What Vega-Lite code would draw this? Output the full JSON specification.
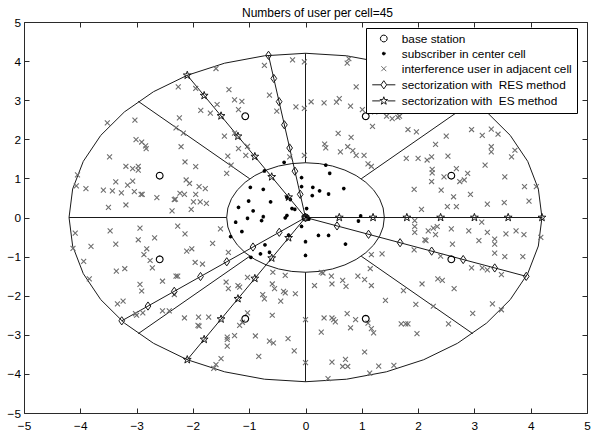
{
"$schema":"https://vega.github.io/schema/vega-lite/v6.json",
"width":563,"height":391,
"autosize":{"type":"none"},
"padding":{"left":24,"top":22,"right":12,"bottom":21},
"background":"white",
"title":{"text":"Numbers of user per cell=45","font":"Liberation Sans","fontSize":12,"fontWeight":"normal","color":"black","anchor":"middle","offset":7,"dx":12,"dy":10},
"config":{
 "view":{"stroke":"#2a2a2a","strokeWidth":1},
 "axis":{"grid":false,"domain":false,"ticks":true,"tickSize":5,"offset":-5,"tickColor":"#2a2a2a","tickWidth":1,"labelFont":"Liberation Sans","labelFontSize":11.8,"labelColor":"black","title":null,"labelOverlap":false,"labelFlush":false}
},
"datasets":{
 "lines":[
  {"g":"outer","o":0,"x":4.2,"y":0},{"g":"outer","o":1,"x":4.136,"y":0.729},{"g":"outer","o":2,"x":3.947,"y":1.436},{"g":"outer","o":3,"x":3.637,"y":2.1},{"g":"outer","o":4,"x":3.217,"y":2.7},{"g":"outer","o":5,"x":2.7,"y":3.217},{"g":"outer","o":6,"x":2.1,"y":3.637},{"g":"outer","o":7,"x":1.436,"y":3.947},{"g":"outer","o":8,"x":0.729,"y":4.136},{"g":"outer","o":9,"x":0,"y":4.2},
  {"g":"outer","o":10,"x":-0.729,"y":4.136},{"g":"outer","o":11,"x":-1.436,"y":3.947},{"g":"outer","o":12,"x":-2.1,"y":3.637},{"g":"outer","o":13,"x":-2.7,"y":3.217},{"g":"outer","o":14,"x":-3.217,"y":2.7},{"g":"outer","o":15,"x":-3.637,"y":2.1},{"g":"outer","o":16,"x":-3.947,"y":1.436},{"g":"outer","o":17,"x":-4.136,"y":0.729},{"g":"outer","o":18,"x":-4.2,"y":0},
  {"g":"outer","o":19,"x":-4.136,"y":-0.729},{"g":"outer","o":20,"x":-3.947,"y":-1.436},{"g":"outer","o":21,"x":-3.637,"y":-2.1},{"g":"outer","o":22,"x":-3.217,"y":-2.7},{"g":"outer","o":23,"x":-2.7,"y":-3.217},{"g":"outer","o":24,"x":-2.1,"y":-3.637},{"g":"outer","o":25,"x":-1.436,"y":-3.947},{"g":"outer","o":26,"x":-0.729,"y":-4.136},{"g":"outer","o":27,"x":0,"y":-4.2},
  {"g":"outer","o":28,"x":0.729,"y":-4.136},{"g":"outer","o":29,"x":1.436,"y":-3.947},{"g":"outer","o":30,"x":2.1,"y":-3.637},{"g":"outer","o":31,"x":2.7,"y":-3.217},{"g":"outer","o":32,"x":3.217,"y":-2.7},{"g":"outer","o":33,"x":3.637,"y":-2.1},{"g":"outer","o":34,"x":3.947,"y":-1.436},{"g":"outer","o":35,"x":4.136,"y":-0.729},{"g":"outer","o":36,"x":4.2,"y":0},
  {"g":"inner","o":0,"x":1.4,"y":0},{"g":"inner","o":1,"x":1.379,"y":0.243},{"g":"inner","o":2,"x":1.316,"y":0.479},{"g":"inner","o":3,"x":1.212,"y":0.7},{"g":"inner","o":4,"x":1.072,"y":0.9},{"g":"inner","o":5,"x":0.9,"y":1.072},{"g":"inner","o":6,"x":0.7,"y":1.212},{"g":"inner","o":7,"x":0.479,"y":1.316},{"g":"inner","o":8,"x":0.243,"y":1.379},{"g":"inner","o":9,"x":0,"y":1.4},
  {"g":"inner","o":10,"x":-0.243,"y":1.379},{"g":"inner","o":11,"x":-0.479,"y":1.316},{"g":"inner","o":12,"x":-0.7,"y":1.212},{"g":"inner","o":13,"x":-0.9,"y":1.072},{"g":"inner","o":14,"x":-1.072,"y":0.9},{"g":"inner","o":15,"x":-1.212,"y":0.7},{"g":"inner","o":16,"x":-1.316,"y":0.479},{"g":"inner","o":17,"x":-1.379,"y":0.243},{"g":"inner","o":18,"x":-1.4,"y":0},
  {"g":"inner","o":19,"x":-1.379,"y":-0.243},{"g":"inner","o":20,"x":-1.316,"y":-0.479},{"g":"inner","o":21,"x":-1.212,"y":-0.7},{"g":"inner","o":22,"x":-1.072,"y":-0.9},{"g":"inner","o":23,"x":-0.9,"y":-1.072},{"g":"inner","o":24,"x":-0.7,"y":-1.212},{"g":"inner","o":25,"x":-0.479,"y":-1.316},{"g":"inner","o":26,"x":-0.243,"y":-1.379},{"g":"inner","o":27,"x":0,"y":-1.4},
  {"g":"inner","o":28,"x":0.243,"y":-1.379},{"g":"inner","o":29,"x":0.479,"y":-1.316},{"g":"inner","o":30,"x":0.7,"y":-1.212},{"g":"inner","o":31,"x":0.9,"y":-1.072},{"g":"inner","o":32,"x":1.072,"y":-0.9},{"g":"inner","o":33,"x":1.212,"y":-0.7},{"g":"inner","o":34,"x":1.316,"y":-0.479},{"g":"inner","o":35,"x":1.379,"y":-0.243},{"g":"inner","o":36,"x":1.4,"y":0},
  {"g":"p1","o":0,"x":-4.2,"y":0},{"g":"p1","o":1,"x":-1.4,"y":0},
  {"g":"p2","o":0,"x":0,"y":1.4},{"g":"p2","o":1,"x":0,"y":4.2},
  {"g":"p3","o":0,"x":0,"y":-1.4},{"g":"p3","o":1,"x":0,"y":-4.2},
  {"g":"p4","o":0,"x":0.99,"y":0.99},{"g":"p4","o":1,"x":2.97,"y":2.97},
  {"g":"p5","o":0,"x":-0.99,"y":0.99},{"g":"p5","o":1,"x":-2.97,"y":2.97},
  {"g":"p6","o":0,"x":-0.99,"y":-0.99},{"g":"p6","o":1,"x":-2.97,"y":-2.97},
  {"g":"p7","o":0,"x":0.99,"y":-0.99},{"g":"p7","o":1,"x":2.97,"y":-2.97},
  {"g":"r1","o":0,"x":0,"y":0},{"g":"r1","o":1,"x":-0.657,"y":4.148},
  {"g":"r2","o":0,"x":0,"y":0},{"g":"r2","o":1,"x":-3.264,"y":-2.643},
  {"g":"r3","o":0,"x":0,"y":0},{"g":"r3","o":1,"x":3.921,"y":-1.505},
  {"g":"e1","o":0,"x":0,"y":0},{"g":"e1","o":1,"x":4.2,"y":0},
  {"g":"e2","o":0,"x":0,"y":0},{"g":"e2","o":1,"x":-2.1,"y":3.637},
  {"g":"e3","o":0,"x":0,"y":0},{"g":"e3","o":1,"x":-2.1,"y":-3.637}
 ],
 "marks":[
  {"k":"res","x":0,"y":0},{"k":"res","x":-0.094,"y":0.593},{"k":"res","x":-0.188,"y":1.185},{"k":"res","x":-0.282,"y":1.778},{"k":"res","x":-0.375,"y":2.37},{"k":"res","x":-0.469,"y":2.963},{"k":"res","x":-0.563,"y":3.556},{"k":"res","x":-0.657,"y":4.148},
  {"k":"res","x":-0.466,"y":-0.378},{"k":"res","x":-0.933,"y":-0.755},{"k":"res","x":-1.399,"y":-1.133},{"k":"res","x":-1.865,"y":-1.51},{"k":"res","x":-2.331,"y":-1.888},{"k":"res","x":-2.798,"y":-2.265},{"k":"res","x":-3.264,"y":-2.643},
  {"k":"res","x":0.56,"y":-0.215},{"k":"res","x":1.12,"y":-0.43},{"k":"res","x":1.68,"y":-0.645},{"k":"res","x":2.241,"y":-0.86},{"k":"res","x":2.801,"y":-1.075},{"k":"res","x":3.361,"y":-1.29},{"k":"res","x":3.921,"y":-1.505},
  {"k":"es","x":0,"y":0},{"k":"es","x":0.6,"y":0},{"k":"es","x":1.2,"y":0},{"k":"es","x":1.8,"y":0},{"k":"es","x":2.4,"y":0},{"k":"es","x":3.0,"y":0},{"k":"es","x":3.6,"y":0},{"k":"es","x":4.2,"y":0},
  {"k":"es","x":-0.3,"y":0.52},{"k":"es","x":-0.6,"y":1.039},{"k":"es","x":-0.9,"y":1.559},{"k":"es","x":-1.2,"y":2.078},{"k":"es","x":-1.5,"y":2.598},{"k":"es","x":-1.8,"y":3.118},{"k":"es","x":-2.1,"y":3.637},
  {"k":"es","x":-0.3,"y":-0.52},{"k":"es","x":-0.6,"y":-1.039},{"k":"es","x":-0.9,"y":-1.559},{"k":"es","x":-1.2,"y":-2.078},{"k":"es","x":-1.5,"y":-2.598},{"k":"es","x":-1.8,"y":-3.118},{"k":"es","x":-2.1,"y":-3.637}
 ],
 "pts":[
  {"s":"int","x":-0.73,"y":3.89},{"s":"int","x":-0.23,"y":4.03},{"s":"int","x":-1.59,"y":3.81},{"s":"int","x":-2.26,"y":3.34},{"s":"int","x":-1.36,"y":3.27},{"s":"int","x":-1.95,"y":3.3},{"s":"int","x":-1.26,"y":3.01},{"s":"int","x":-1.13,"y":2.97},{"s":"int","x":-1.57,"y":2.89},{"s":"int","x":-1.86,"y":2.74},{"s":"int","x":-1.69,"y":2.67},{"s":"int","x":-1.19,"y":2.76},{"s":"int","x":-0.64,"y":3.13},{"s":"int","x":-0.51,"y":2.72},{"s":"int","x":-0.17,"y":2.83},{"s":"int","x":-2.24,"y":2.55},{"s":"int","x":-2.17,"y":2.16},{"s":"int","x":-2.3,"y":2.29},{"s":"int","x":-1.44,"y":2.08},{"s":"int","x":-1.26,"y":2.16},{"s":"int","x":-1.19,"y":1.76},{"s":"int","x":-1.03,"y":1.82},{"s":"int","x":-1.06,"y":1.59},{"s":"int","x":-1.38,"y":1.57},{"s":"int","x":-1.32,"y":1.34},{"s":"int","x":-1.4,"y":1.13},{"s":"int","x":-2.21,"y":1.81},{"s":"int","x":-2.84,"y":1.83},{"s":"int","x":-2.83,"y":1.76},{"s":"int","x":-3.03,"y":2.49},{"s":"int","x":-3.01,"y":1.99},{"s":"int","x":-2.91,"y":1.93},{"s":"int","x":-3.52,"y":2.42},{"s":"int","x":-3.48,"y":1.55},{"s":"int","x":-3.19,"y":1.31},{"s":"int","x":-3.07,"y":1.25},{"s":"int","x":-2.97,"y":1.31},{"s":"int","x":-2.97,"y":1.21},{"s":"int","x":-2.14,"y":1.42},{"s":"int","x":-1.95,"y":1.3},{"s":"int","x":-4.05,"y":1.09},{"s":"int","x":-4.07,"y":0.81},{"s":"int","x":-3.9,"y":0.74},{"s":"int","x":-3.59,"y":0.7},{"s":"int","x":-3.43,"y":0.68},{"s":"int","x":-3.37,"y":0.91},{"s":"int","x":-3.27,"y":0.63},{"s":"int","x":-3.16,"y":0.83},{"s":"int","x":-3.07,"y":0.93},{"s":"int","x":-3.04,"y":0.66},{"s":"int","x":-2.92,"y":0.59},{"s":"int","x":-2.9,"y":0.59},{"s":"int","x":-3.19,"y":0.32},{"s":"int","x":-3.5,"y":0.26},{"s":"int","x":-2.64,"y":0.51},{"s":"int","x":-2.33,"y":0.46},{"s":"int","x":-2.31,"y":0.47},{"s":"int","x":-2.37,"y":0.17},{"s":"int","x":-2.23,"y":0.62},{"s":"int","x":-2.15,"y":0.59},{"s":"int","x":-2.12,"y":0.96},{"s":"int","x":-2.06,"y":0.87},{"s":"int","x":-1.89,"y":0.79},{"s":"int","x":-1.78,"y":0.74},{"s":"int","x":-1.95,"y":0.59},{"s":"int","x":-1.99,"y":0.4},{"s":"int","x":-1.87,"y":0.4},{"s":"int","x":-1.76,"y":0.36},{"s":"int","x":-2.03,"y":0.21},{"s":"int","x":-0.28,"y":1.55},
  {"s":"int","x":-0.02,"y":3.98},{"s":"int","x":-0.02,"y":2.79},{"s":"int","x":-0.02,"y":1.59},{"s":"int","x":0.77,"y":4.06},{"s":"int","x":0.74,"y":3.95},{"s":"int","x":0.9,"y":3.34},{"s":"int","x":0.1,"y":2.96},{"s":"int","x":0.33,"y":2.93},{"s":"int","x":0.55,"y":2.95},{"s":"int","x":0.6,"y":3.04},{"s":"int","x":0.8,"y":2.85},{"s":"int","x":1.01,"y":2.76},{"s":"int","x":1.23,"y":2.7},{"s":"int","x":1.19,"y":2.33},{"s":"int","x":1.44,"y":2.59},{"s":"int","x":1.54,"y":2.53},{"s":"int","x":1.64,"y":2.56},{"s":"int","x":1.67,"y":2.59},{"s":"int","x":0.58,"y":2.15},{"s":"int","x":0.81,"y":2.05},{"s":"int","x":0.34,"y":1.88},{"s":"int","x":0.36,"y":1.78},{"s":"int","x":0.62,"y":1.68},{"s":"int","x":0.75,"y":1.81},{"s":"int","x":0.84,"y":1.71},{"s":"int","x":0.9,"y":1.59},{"s":"int","x":1.04,"y":1.59},{"s":"int","x":1.11,"y":1.37},{"s":"int","x":1.17,"y":1.31},{"s":"int","x":1.82,"y":2.25},{"s":"int","x":1.97,"y":2.19},{"s":"int","x":2.5,"y":2.08},{"s":"int","x":2.95,"y":2.25},{"s":"int","x":3.14,"y":2.1},{"s":"int","x":3.3,"y":2.26},{"s":"int","x":3.42,"y":2.13},{"s":"int","x":2.31,"y":1.87},{"s":"int","x":3.3,"y":1.81},{"s":"int","x":3.3,"y":1.68},{"s":"int","x":3.72,"y":1.72},{"s":"int","x":3.66,"y":1.55},{"s":"int","x":1.79,"y":1.51},{"s":"int","x":2.0,"y":1.51},{"s":"int","x":2.16,"y":1.47},{"s":"int","x":2.24,"y":1.55},{"s":"int","x":2.53,"y":1.57},{"s":"int","x":2.25,"y":1.23},{"s":"int","x":2.25,"y":1.14},{"s":"int","x":2.24,"y":0.92},{"s":"int","x":2.46,"y":1.04},{"s":"int","x":2.68,"y":1.25},{"s":"int","x":2.88,"y":1.13},{"s":"int","x":3.19,"y":1.34},{"s":"int","x":3.54,"y":1.04},{"s":"int","x":3.89,"y":0.79},{"s":"int","x":4.1,"y":0.79},{"s":"int","x":1.93,"y":0.72},{"s":"int","x":2.41,"y":0.7},{"s":"int","x":2.74,"y":0.92},{"s":"int","x":2.82,"y":0.96},{"s":"int","x":2.63,"y":0.53},{"s":"int","x":2.52,"y":0.28},{"s":"int","x":2.93,"y":0.59},{"s":"int","x":3.23,"y":0.34},{"s":"int","x":3.53,"y":0.38},{"s":"int","x":3.97,"y":0.42},{"s":"int","x":2.06,"y":0.21},{"s":"int","x":2.68,"y":0.28},
  {"s":"int","x":-4.09,"y":-0.4},{"s":"int","x":-4.13,"y":-0.79},{"s":"int","x":-3.81,"y":-0.74},{"s":"int","x":-3.94,"y":-1.12},{"s":"int","x":-3.84,"y":-1.57},{"s":"int","x":-3.47,"y":-0.34},{"s":"int","x":-3.37,"y":-0.68},{"s":"int","x":-2.94,"y":-0.27},{"s":"int","x":-2.97,"y":-0.57},{"s":"int","x":-2.68,"y":-0.52},{"s":"int","x":-2.82,"y":-0.8},{"s":"int","x":-2.87,"y":-0.95},{"s":"int","x":-2.76,"y":-1.1},{"s":"int","x":-2.72,"y":-1.29},{"s":"int","x":-3.21,"y":-1.31},{"s":"int","x":-3.36,"y":-1.37},{"s":"int","x":-2.27,"y":-0.22},{"s":"int","x":-2.14,"y":-0.42},{"s":"int","x":-2.11,"y":-0.86},{"s":"int","x":-2.02,"y":-0.8},{"s":"int","x":-1.65,"y":-0.66},{"s":"int","x":-1.51,"y":-0.29},{"s":"int","x":-1.96,"y":-1.15},{"s":"int","x":-1.83,"y":-1.19},{"s":"int","x":-2.3,"y":-1.5},{"s":"int","x":-2.27,"y":-1.5},{"s":"int","x":-2.54,"y":-1.63},{"s":"int","x":-2.94,"y":-1.71},{"s":"int","x":-2.91,"y":-1.88},{"s":"int","x":-3.34,"y":-2.21},{"s":"int","x":-3.24,"y":-2.14},{"s":"int","x":-3.02,"y":-2.46},{"s":"int","x":-3.0,"y":-2.5},{"s":"int","x":-2.89,"y":-2.44},{"s":"int","x":-2.54,"y":-2.39},{"s":"int","x":-2.42,"y":-2.39},{"s":"int","x":-2.33,"y":-1.97},{"s":"int","x":-2.15,"y":-2.57},{"s":"int","x":-1.9,"y":-2.55},{"s":"int","x":-1.72,"y":-2.55},{"s":"int","x":-1.91,"y":-2.76},{"s":"int","x":-1.89,"y":-2.78},{"s":"int","x":-1.37,"y":-0.89},{"s":"int","x":-1.41,"y":-1.65},{"s":"int","x":-1.37,"y":-1.82},{"s":"int","x":-1.2,"y":-1.74},{"s":"int","x":-1.17,"y":-1.78},{"s":"int","x":-1.03,"y":-1.53},{"s":"int","x":-0.76,"y":-1.97},{"s":"int","x":-0.73,"y":-2.08},{"s":"int","x":-0.55,"y":-1.82},{"s":"int","x":-0.59,"y":-1.7},{"s":"int","x":-0.39,"y":-1.89},{"s":"int","x":-0.44,"y":-2.14},{"s":"int","x":-0.36,"y":-1.93},{"s":"int","x":-0.18,"y":-1.95},{"s":"int","x":-0.58,"y":-1.4},{"s":"int","x":-0.36,"y":-1.48},{"s":"int","x":-1.03,"y":-2.44},{"s":"int","x":-1.17,"y":-2.76},{"s":"int","x":-1.12,"y":-2.68},{"s":"int","x":-0.59,"y":-2.5},{"s":"int","x":-1.39,"y":-3.06},{"s":"int","x":-1.39,"y":-3.12},{"s":"int","x":-1.39,"y":-3.29},{"s":"int","x":-1.26,"y":-3.02},{"s":"int","x":-0.89,"y":-3.03},{"s":"int","x":-0.64,"y":-3.16},{"s":"int","x":-0.57,"y":-3.21},{"s":"int","x":-0.31,"y":-3.1},{"s":"int","x":-0.2,"y":-3.41},{"s":"int","x":-0.83,"y":-3.55},{"s":"int","x":-1.5,"y":-3.61},{"s":"int","x":-1.59,"y":-3.76},{"s":"int","x":-1.63,"y":-3.86},
  {"s":"int","x":1.94,"y":-0.08},{"s":"int","x":1.94,"y":-0.23},{"s":"int","x":1.94,"y":-0.38},{"s":"int","x":2.18,"y":-0.34},{"s":"int","x":2.27,"y":-0.27},{"s":"int","x":2.34,"y":-0.23},{"s":"int","x":2.31,"y":-0.44},{"s":"int","x":2.59,"y":-0.29},{"s":"int","x":2.9,"y":-0.34},{"s":"int","x":3.13,"y":-0.12},{"s":"int","x":3.23,"y":-0.38},{"s":"int","x":3.08,"y":-0.59},{"s":"int","x":3.36,"y":-0.55},{"s":"int","x":3.36,"y":-0.68},{"s":"int","x":3.56,"y":-0.42},{"s":"int","x":3.74,"y":-0.34},{"s":"int","x":3.88,"y":-0.44},{"s":"int","x":4.18,"y":-0.51},{"s":"int","x":2.12,"y":-0.57},{"s":"int","x":2.14,"y":-0.59},{"s":"int","x":1.93,"y":-0.83},{"s":"int","x":2.61,"y":-0.68},{"s":"int","x":2.4,"y":-0.99},{"s":"int","x":2.95,"y":-1.29},{"s":"int","x":3.14,"y":-1.29},{"s":"int","x":3.23,"y":-1.34},{"s":"int","x":3.36,"y":-0.91},{"s":"int","x":3.54,"y":-1.0},{"s":"int","x":3.86,"y":-1.0},{"s":"int","x":3.48,"y":-1.46},{"s":"int","x":1.17,"y":-0.95},{"s":"int","x":1.36,"y":-0.93},{"s":"int","x":1.15,"y":-1.31},{"s":"int","x":0.28,"y":-1.4},{"s":"int","x":0.31,"y":-1.42},{"s":"int","x":0.46,"y":-1.5},{"s":"int","x":0.47,"y":-1.7},{"s":"int","x":0.16,"y":-1.74},{"s":"int","x":0.66,"y":-1.61},{"s":"int","x":0.72,"y":-1.76},{"s":"int","x":0.93,"y":-1.5},{"s":"int","x":1.05,"y":-1.59},{"s":"int","x":1.17,"y":-1.74},{"s":"int","x":1.74,"y":-1.87},{"s":"int","x":1.42,"y":-2.12},{"s":"int","x":1.96,"y":-2.22},{"s":"int","x":2.35,"y":-1.57},{"s":"int","x":2.43,"y":-1.61},{"s":"int","x":2.07,"y":-1.7},{"s":"int","x":2.64,"y":-1.82},{"s":"int","x":2.27,"y":-2.27},{"s":"int","x":2.97,"y":-2.45},{"s":"int","x":3.32,"y":-2.21},{"s":"int","x":3.48,"y":-2.36},{"s":"int","x":2.54,"y":-2.72},{"s":"int","x":1.98,"y":-2.97},{"s":"int","x":1.7,"y":-2.72},{"s":"int","x":1.78,"y":-2.72},{"s":"int","x":1.82,"y":-2.72},{"s":"int","x":0.74,"y":-2.46},{"s":"int","x":0.33,"y":-2.57},{"s":"int","x":0.47,"y":-2.57},{"s":"int","x":0.5,"y":-2.61},{"s":"int","x":0.53,"y":-2.67},{"s":"int","x":0.8,"y":-2.82},{"s":"int","x":0.89,"y":-2.61},{"s":"int","x":1.17,"y":-2.84},{"s":"int","x":1.21,"y":-2.95},{"s":"int","x":1.11,"y":-2.7},{"s":"int","x":0.28,"y":-2.93},{"s":"int","x":0.0,"y":-2.61},{"s":"int","x":0.0,"y":-3.71},{"s":"int","x":0.47,"y":-3.7},{"s":"int","x":0.71,"y":-3.63},{"s":"int","x":0.66,"y":-3.81},{"s":"int","x":0.75,"y":-3.81},{"s":"int","x":1.05,"y":-3.44},{"s":"int","x":1.3,"y":-3.8},{"s":"int","x":1.57,"y":-3.78},{"s":"int","x":1.14,"y":-3.98},{"s":"int","x":0.4,"y":-4.12},
  {"s":"sub","x":-0.73,"y":1.19},{"s":"sub","x":0.36,"y":1.34},{"s":"sub","x":0.43,"y":1.13},{"s":"sub","x":-0.07,"y":1.02},{"s":"sub","x":-0.38,"y":1.41},{"s":"sub","x":-0.98,"y":0.77},{"s":"sub","x":-0.75,"y":0.72},{"s":"sub","x":-0.07,"y":0.79},{"s":"sub","x":0.13,"y":0.77},{"s":"sub","x":0.25,"y":0.68},{"s":"sub","x":0.12,"y":0.56},{"s":"sub","x":0.41,"y":0.6},{"s":"sub","x":0.68,"y":0.74},{"s":"sub","x":-1.01,"y":0.42},{"s":"sub","x":-0.62,"y":0.4},{"s":"sub","x":-1.19,"y":0.26},{"s":"sub","x":-0.93,"y":0.17},{"s":"sub","x":-1.03,"y":-0.02},{"s":"sub","x":-0.75,"y":0.02},{"s":"sub","x":-0.78,"y":-0.08},{"s":"sub","x":-1.24,"y":-0.12},{"s":"sub","x":-1.13,"y":-0.36},{"s":"sub","x":-1.33,"y":-0.49},{"s":"sub","x":-0.33,"y":0.51},{"s":"sub","x":-0.27,"y":0.46},{"s":"sub","x":-0.24,"y":0.23},{"s":"sub","x":-0.19,"y":0.21},{"s":"sub","x":-0.36,"y":-0.01},{"s":"sub","x":-0.33,"y":0.05},{"s":"sub","x":0.02,"y":0.23},{"s":"sub","x":0.02,"y":0.02},{"s":"sub","x":0.06,"y":-0.04},{"s":"sub","x":0.98,"y":0.04},{"s":"sub","x":0.94,"y":-0.09},{"s":"sub","x":-0.07,"y":-0.23},{"s":"sub","x":-0.3,"y":-0.45},{"s":"sub","x":0.23,"y":-0.46},{"s":"sub","x":0.41,"y":-0.46},{"s":"sub","x":0.0,"y":-0.62},{"s":"sub","x":0.71,"y":-0.68},{"s":"sub","x":-0.72,"y":-0.7},{"s":"sub","x":-0.8,"y":-0.93},{"s":"sub","x":-0.64,"y":-0.89},{"s":"sub","x":0.0,"y":-0.97},{"s":"sub","x":-0.97,"y":-1.02},
  {"s":"bs","x":0,"y":0},{"s":"bs","x":1.07,"y":2.59},{"s":"bs","x":2.59,"y":1.07},{"s":"bs","x":2.59,"y":-1.07},{"s":"bs","x":1.07,"y":-2.59},{"s":"bs","x":-1.07,"y":-2.59},{"s":"bs","x":-2.59,"y":-1.07},{"s":"bs","x":-2.59,"y":1.07},{"s":"bs","x":-1.07,"y":2.59}
 ]
},
"layer":[
 {"data":{"name":"lines"},
  "mark":{"type":"line","stroke":"#1a1a1a","strokeWidth":1},
  "encoding":{
   "x":{"field":"x","type":"quantitative","scale":{"domain":[-5,5],"nice":false,"zero":false},"axis":{"orient":"bottom","values":[-5,-4,-3,-2,-1,0,1,2,3,4,5],"labelPadding":7}},
   "y":{"field":"y","type":"quantitative","scale":{"domain":[-5,5],"nice":false,"zero":false},"axis":{"orient":"left","values":[-5,-4,-3,-2,-1,0,1,2,3,4,5],"labelPadding":3.5}},
   "detail":{"field":"g","type":"nominal"},
   "order":{"field":"o","type":"quantitative"}}},
 {"data":{"name":"pts"},
  "mark":{"type":"point","filled":false,"size":121,"strokeWidth":1.1,"opacity":1},
  "encoding":{
   "x":{"field":"x","type":"quantitative","axis":{"orient":"top","values":[-5,-4,-3,-2,-1,0,1,2,3,4,5],"labels":false}},
   "y":{"field":"y","type":"quantitative","axis":{"orient":"right","values":[-5,-4,-3,-2,-1,0,1,2,3,4,5],"labels":false}},
   "shape":{"field":"s","type":"nominal",
    "scale":{"domain":["bs","sub","int","res","es"],
     "range":["M0.62,0L0.537,0.31L0.31,0.537L0,0.62L-0.31,0.537L-0.537,0.31L-0.62,0L-0.537,-0.31L-0.31,-0.537L0,-0.62L0.31,-0.537L0.537,-0.31Z",
      "M-0.34,0L0.34,0M0,-0.34L0,0.34M-0.24,-0.24L0.24,0.24M-0.24,0.24L0.24,-0.24M0.2,0L0,0.2L-0.2,0L0,-0.2Z",
      "M-0.45,-0.45L0.45,0.45M-0.45,0.45L0.45,-0.45",
      "M-2.1,0L-0.52,0M0.52,0L2.1,0M0,-0.75L0.52,0L0,0.75L-0.52,0Z",
      "M-2.1,0L-0.7,0M0.7,0L2.1,0M0,-0.75L0.176,-0.243L0.713,-0.232L0.285,0.093L0.441,0.607L0,0.3L-0.441,0.607L-0.285,0.093L-0.713,-0.232L-0.176,-0.243Z"]},
    "legend":{"title":null,"orient":"none","legendX":342,"legendY":6,"strokeColor":"black","fillColor":"white","padding":4.5,"labelFont":"Liberation Sans","labelFontSize":11.8,"labelColor":"black","labelOffset":12,"symbolOffset":7.3,"rowPadding":2.1,"symbolSize":121,"symbolStrokeWidth":1,"symbolOpacity":1,"labelLimit":400,
     "labelExpr":"{'bs':'base station','sub':'subscriber in center cell','int':'interference user in adjacent cell','res':'sectorization with\u00a0 RES method','es':'sectorization with\u00a0 ES method'}[datum.value]"}},
   "color":{"field":"s","type":"nominal",
    "scale":{"domain":["bs","sub","int","res","es"],"range":["#000000","#000000","#6e6e6e","#1a1a1a","#1a1a1a"]},
    "legend":{"title":null,"orient":"none","legendX":342,"legendY":6,"strokeColor":"black","fillColor":"white","padding":4.5,"labelFont":"Liberation Sans","labelFontSize":11.8,"labelColor":"black","labelOffset":12,"symbolOffset":7.3,"rowPadding":2.1,"symbolSize":121,"symbolStrokeWidth":1,"symbolOpacity":1,"labelLimit":400,
     "labelExpr":"{'bs':'base station','sub':'subscriber in center cell','int':'interference user in adjacent cell','res':'sectorization with\u00a0 RES method','es':'sectorization with\u00a0 ES method'}[datum.value]"}}}},
 {"data":{"name":"marks"},
  "transform":[{"filter":"datum.k == 'res'"}],
  "mark":{"type":"point","filled":false,"size":121,"strokeWidth":1,"opacity":1,"color":"#1a1a1a","shape":"M0,-0.75L0.52,0L0,0.75L-0.52,0Z"},
  "encoding":{"x":{"field":"x","type":"quantitative","axis":null},"y":{"field":"y","type":"quantitative","axis":null}}},
 {"data":{"name":"marks"},
  "transform":[{"filter":"datum.k == 'es'"}],
  "mark":{"type":"point","filled":false,"size":121,"strokeWidth":1,"opacity":1,"color":"#1a1a1a","shape":"M0,-0.75L0.176,-0.243L0.713,-0.232L0.285,0.093L0.441,0.607L0,0.3L-0.441,0.607L-0.285,0.093L-0.713,-0.232L-0.176,-0.243Z"},
  "encoding":{"x":{"field":"x","type":"quantitative","axis":null},"y":{"field":"y","type":"quantitative","axis":null}}}
],
"resolve":{"axis":{"x":"independent","y":"independent"}}
}
